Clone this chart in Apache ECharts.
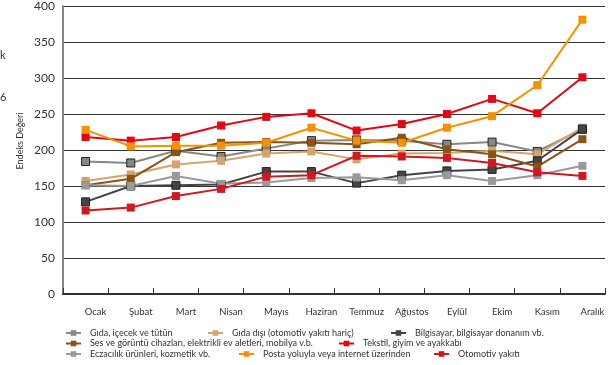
<!DOCTYPE html>
<html>
<head>
<meta charset="utf-8">
<script src="https://cdn.jsdelivr.net/npm/echarts@6/dist/echarts.min.js"></script>
<style>
  html, body { margin: 0; padding: 0; background: #fff; }
  #chart-container { width: 608px; height: 365px; }
</style>
</head>
<body>
<div id="chart-container"></div>
<script>
var dom = document.getElementById('chart-container');
var myChart = echarts.init(dom, null, { renderer: 'canvas' });

var months = ['Ocak', 'Şubat', 'Mart', 'Nisan', 'Mayıs', 'Haziran', 'Temmuz', 'Ağustos', 'Eylül', 'Ekim', 'Kasım', 'Aralık'];

var names = [
  'Gıda, içecek ve tütün',
  'Gıda dışı (otomotiv yakıtı hariç)',
  'Bilgisayar, bilgisayar donanım vb.',
  'Ses ve görüntü cihazları, elektrikli ev aletleri, mobilya v.b.',
  'Tekstil, giyim ve ayakkabı',
  'Eczacılık ürünleri, kozmetik vb.',
  'Posta yoluyla veya internet üzerinden',
  'Otomotiv yakıtı'
];

var gida = [184, 182, 199, 191, 202, 213, 214, 213, 208, 211, 198, 229];
var gidaDisi = [157, 166, 180, 185, 195, 198, 187, 195, 196, 199, 194, 231];
var bilgisayar = [128, 150, 151, 152, 170, 170, 154, 165, 171, 173, 185, 229];
var sesGoruntu = [151, 160, 197, 210, 211, 210, 208, 217, 201, 194, 177, 215];
var tekstil = [218, 213, 218, 234, 246, 251, 227, 236, 250, 271, 251, 301];
var eczacilik = [151, 150, 164, 153, 155, 161, 162, 158, 165, 157, 165, 178];
var posta = [228, 205, 206, 206, 210, 231, 213, 210, 231, 247, 290, 381];
var otomotiv = [116, 120, 136, 146, 163, 165, 192, 191, 189, 182, 169, 164];

var values = [gida, gidaDisi, bilgisayar, sesGoruntu, tekstil, eczacilik, posta, otomotiv];
var colors = ['#878787', '#d4a46c', '#444444', '#8a5318', '#e30613', '#9a9a9a', '#f39200', '#d2171f'];
var borders = ['#222', null, '#222', null, null, null, null, null];

// legend placement: [left, top] per item
var legendPos = [[65, 328.5], [207, 328.5], [390, 328.5], [65, 339], [338, 339], [65, 349.5], [238, 349.5], [433, 349.5]];

var series = values.map(function (v, i) {
  return {
    name: names[i],
    type: 'line',
    data: v,
    symbol: 'rect',
    symbolSize: 8,
    lineStyle: { color: colors[i], width: 2 },
    itemStyle: {
      color: colors[i],
      borderColor: borders[i] || colors[i],
      borderWidth: borders[i] ? 1 : 0
    },
    emphasis: { disabled: true },
    animation: false
  };
});

var legends = names.map(function (n, i) {
  return {
    data: [n],
    left: legendPos[i][0],
    top: legendPos[i][1],
    padding: 0,
    itemWidth: 15,
    itemHeight: 7,
    selectedMode: false,
    itemStyle: { borderWidth: 0 },
    textStyle: { fontFamily: 'Lato', fontSize: 9, color: '#333', padding: [0, 0, 0, 4] }
  };
});

var option = {
  backgroundColor: '#fff',
  textStyle: { fontFamily: 'Lato' },
  grid: { left: 63, right: 3, top: 6, bottom: 71, containLabel: false },
  legend: legends,
  xAxis: {
    type: 'category',
    data: months,
    boundaryGap: true,
    axisLine: { lineStyle: { color: '#333', width: 2 } },
    axisTick: { show: true, inside: true, length: 6, interval: 0, lineStyle: { color: '#333', width: 1 } },
    axisLabel: { color: '#333', fontSize: 9.5, margin: 13, interval: 0, padding: [0, 0, 0, 20] }
  },
  yAxis: {
    type: 'value',
    min: 0,
    max: 400,
    interval: 50,
    axisLine: { show: true, lineStyle: { color: '#888', width: 2 } },
    axisTick: { show: false },
    splitLine: { lineStyle: { color: '#333', width: 1 } },
    axisLabel: { color: '#333', fontSize: 12, margin: 8 }
  },
  graphic: [
    {
      type: 'text', x: 20, y: 141, rotation: Math.PI / 2,
      style: { text: 'Endeks Değeri', fontFamily: 'Lato', fontSize: 9, fill: '#333', align: 'center', verticalAlign: 'middle' }
    },
    { type: 'text', x: 0, y: 50, style: { text: 'k', fontFamily: 'Lato', fontSize: 11, fill: '#333' } },
    { type: 'text', x: 0, y: 92, style: { text: '6', fontFamily: 'Lato', fontSize: 11, fill: '#333' } }
  ],
  series: series
};

myChart.setOption(option);
window.addEventListener('resize', myChart.resize);
</script>
</body>
</html>
